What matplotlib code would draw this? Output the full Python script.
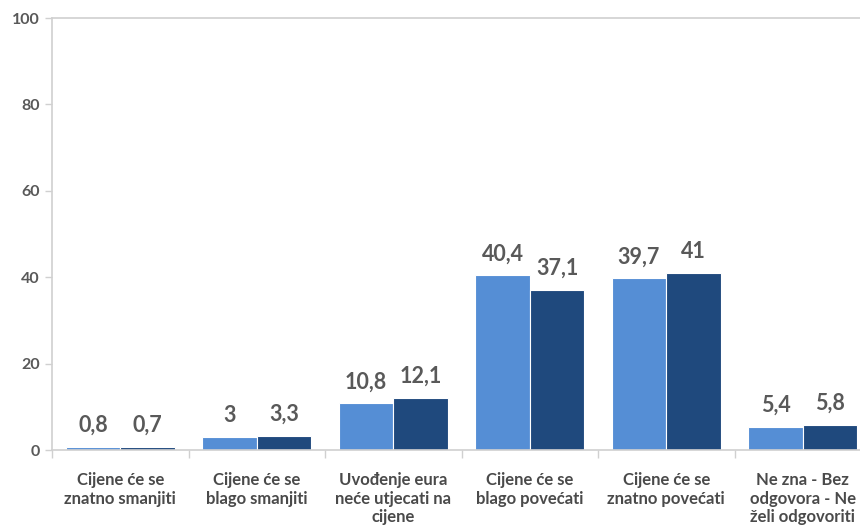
import numpy as np
import matplotlib.pyplot as plt

categories = ["Cijene će se\nznatno smanjiti",
              "Cijene će se\nblago smanjiti",
              "Uvođenje eura\nneće utjecati na\ncijene",
              "Cijene će se\nblago povećati",
              "Cijene će se\nznatno povećati",
              "Ne zna - Bez\nodgovora - Ne\nželi odgovoriti"]
series_a = [0.8, 3, 10.8, 40.4, 39.7, 5.4]
series_b = [0.7, 3.3, 12.1, 37.1, 41, 5.8]
labels_a = ["0,8", "3", "10,8", "40,4", "39,7", "5,4"]
labels_b = ["0,7", "3,3", "12,1", "37,1", "41", "5,8"]
yticks = [0, 20, 40, 60, 80, 100]

plt.rcParams['font.family'] = ['Lato', 'DejaVu Sans']

fig = plt.figure(figsize=(8.6, 5.32), dpi=100)
ax = fig.add_axes([52 / 860, 82 / 532, 819 / 860, 432 / 532])

x = np.arange(len(categories))
w = 0.4
bars_a = ax.bar(x - w / 2, series_a, w, color="#558ED5", edgecolor="white", linewidth=0.8)
bars_b = ax.bar(x + w / 2, series_b, w, color="#1F497D", edgecolor="white", linewidth=0.8)

# value labels above each bar
for bars, labs in ((bars_a, labels_a), (bars_b, labels_b)):
    for b, lab in zip(bars, labs):
        ax.annotate(lab, (b.get_x() + b.get_width() / 2, b.get_height()),
                    xytext=(0, 8), textcoords="offset points",
                    ha="center", va="bottom", fontsize=15.5, fontweight="bold",
                    color="#595959")

ax.set_xlim(-0.5, len(categories) - 0.5)
ax.set_ylim(0, 100)
ax.set_yticks(yticks)
ax.set_yticklabels([str(t) for t in yticks], fontsize=11.5, fontweight="bold",
                   color="#595959")

# category boundaries as tick marks, names as minor labels
ax.set_xticks(np.arange(len(categories) + 1) - 0.5)
ax.set_xticklabels([])
ax.set_xticks(x, minor=True)
ax.set_xticklabels(categories, minor=True, fontsize=12, fontweight="bold",
                   color="#4A4A4A", linespacing=1.2)
ax.tick_params(axis="x", which="major", length=6, color="#D0D0D0", width=1)
ax.tick_params(axis="x", which="minor", length=0, pad=16)
ax.tick_params(axis="y", length=5, color="#D0D0D0", width=1, pad=4)

for s in ("left", "bottom", "top"):
    ax.spines[s].set_color("#D0D0D0")
    ax.spines[s].set_linewidth(1.2)
ax.spines["right"].set_visible(False)

fig.savefig("out.png", dpi=100)
